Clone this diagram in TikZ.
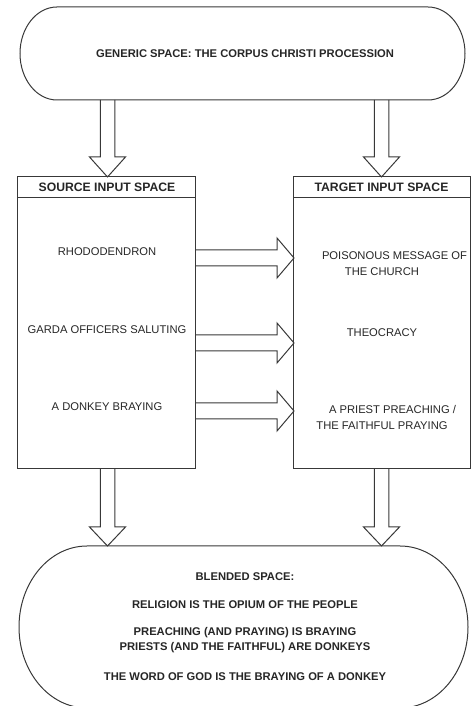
\documentclass[tikz,border=0pt]{standalone}
\usepackage{fontspec}
\setmainfont{Liberation Sans}
\tikzset{
  line/.style={draw=black!78, line width=1bp, line join=miter},
  txt/.style={inner sep=0pt, font=\fontsize{11.2bp}{13bp}\selectfont, text=black!85},
  btxt/.style={txt, font=\fontsize{11.2bp}{13bp}\selectfont\bfseries},
  htxt/.style={txt, font=\fontsize{12.2bp}{14bp}\selectfont\bfseries},
  box/.style={line, inner sep=0pt, minimum width=177bp, minimum height=292bp},
}
\newcommand\vblock[4]{% cx, ytop, yshaft bottom, ytip
  \draw[line] ({#1-7.25},#2) -- ({#1-7.25},#3) -- ({#1-18},#3) -- (#1,#4) -- ({#1+18},#3) -- ({#1+7.25},#3) -- ({#1+7.25},#2);}
\newcommand\hblock[4]{% cy, xstart, xshaft end, xtip
  \draw[line] (#2,{#1+8}) -- (#3,{#1+8}) -- (#3,{#1+20}) -- (#4,#1) -- (#3,{#1-20}) -- (#3,{#1-8}) -- (#2,{#1-8});}
\begin{document}
\begin{tikzpicture}[x=1bp,y=1bp]
\useasboundingbox (0,0) rectangle (476,706);
% generic space
\draw[line] (57,699) -- (428,699) arc[start angle=90,end angle=-90,x radius=37,y radius=46.5]
  -- (57,606) arc[start angle=270,end angle=90,x radius=37,y radius=46.5] -- cycle;
\node[btxt] (generic) at (245,652) {GENERIC SPACE: THE CORPUS CHRISTI PROCESSION};
% input boxes
\node[box] (src) at (106.5,383) {};
\node[box] (tgt) at (382,383) {};
\draw[line] ([yshift=-21bp]src.north west) -- ([yshift=-21bp]src.north east);
\draw[line] ([yshift=-21bp]tgt.north west) -- ([yshift=-21bp]tgt.north east);
\node[htxt] (srchead) at (107,518.5) {SOURCE INPUT SPACE};
\node[htxt] (tgthead) at (381.5,518.5) {TARGET INPUT SPACE};
% arrows from generic space
\vblock{107.5}{606}{549}{529}
\vblock{381.5}{606}{549}{529}
% source items
\node[txt] (s1) at (107,454) {RHODODENDRON};
\node[txt] (s2) at (107,376) {GARDA OFFICERS SALUTING};
\node[txt] (s3) at (107,299) {A DONKEY BRAYING};
% target items
\node[txt] (t1a) at (394.5,450) {POISONOUS MESSAGE OF};
\node[txt] (t1b) at (382,434) {THE CHURCH};
\node[txt] (t2) at (382,373) {THEOCRACY};
\node[txt] (t3a) at (392.5,296) {A PRIEST PREACHING /};
\node[txt] (t3b) at (382,280) {THE FAITHFUL PRAYING};
% mapping arrows
\hblock{448}{195}{277}{294}
\hblock{363}{195}{277}{294}
\hblock{295}{195}{277}{294}
% arrows to blended space
\vblock{107.5}{237}{179}{160}
\vblock{381.5}{237}{179}{160}
% blended space
\draw[line] (87,160) -- (400,160) arc[start angle=90,end angle=-90,x radius=68,y radius=81]
  -- (87,-2) arc[start angle=270,end angle=90,x radius=68,y radius=81] -- cycle;
\node[btxt] (b1) at (245,129) {BLENDED SPACE:};
\node[btxt] (b2) at (245,101) {RELIGION IS THE OPIUM OF THE PEOPLE};
\node[btxt] (b3) at (245,73) {PREACHING (AND PRAYING) IS BRAYING};
\node[btxt] (b4) at (245,58) {PRIESTS (AND THE FAITHFUL) ARE DONKEYS};
\node[btxt] (b5) at (245,29) {THE WORD OF GOD IS THE BRAYING OF A DONKEY};
\end{tikzpicture}
\end{document}
